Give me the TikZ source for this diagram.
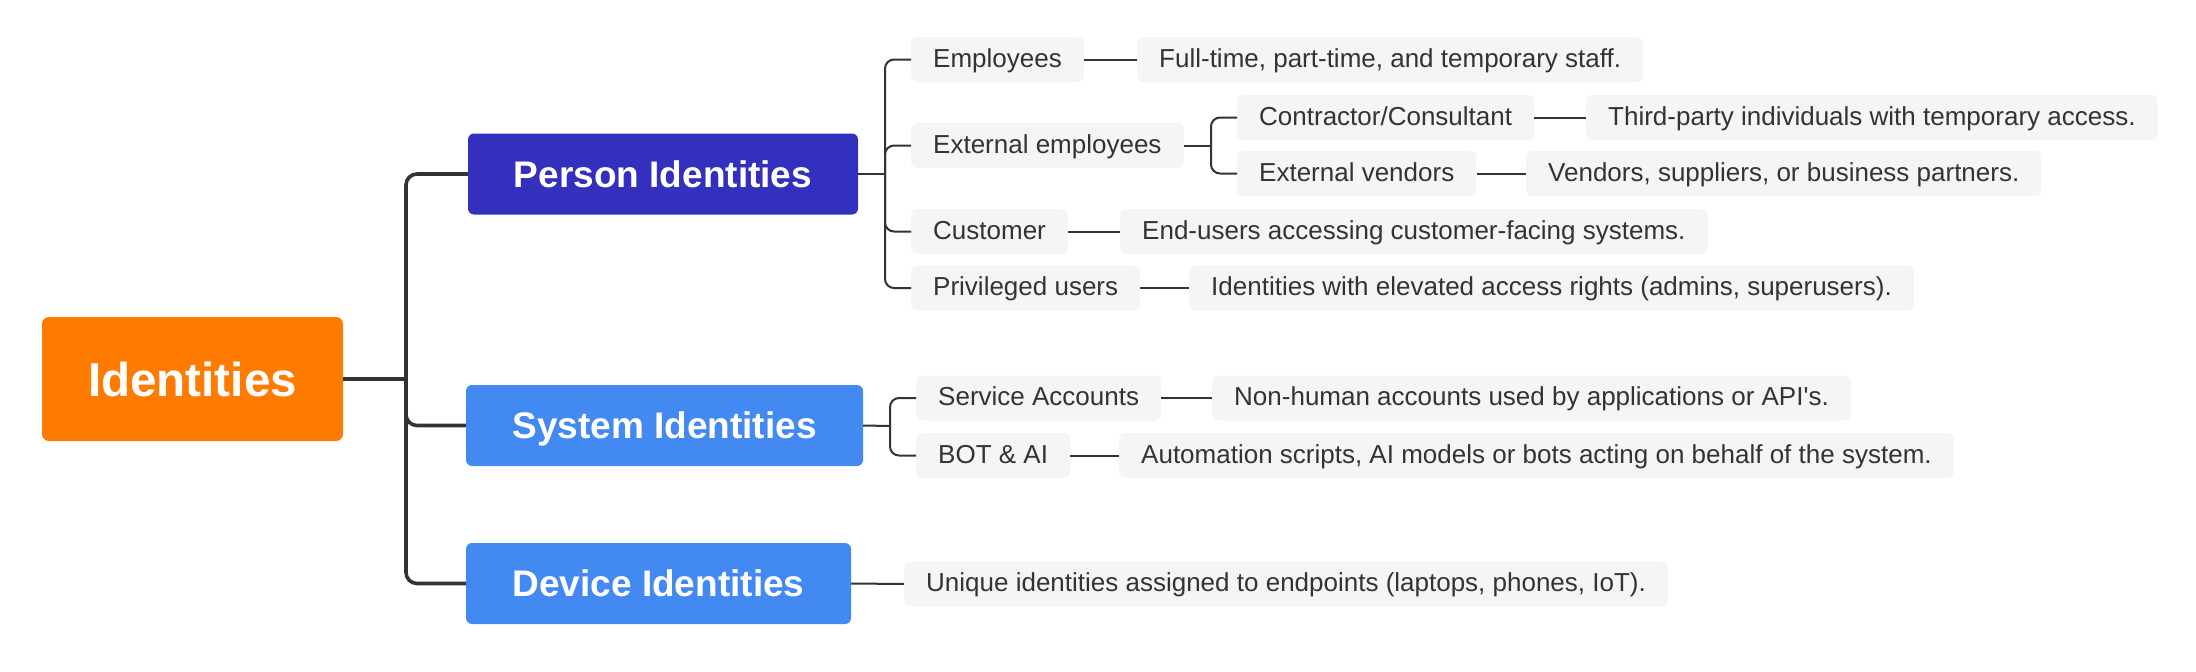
\documentclass[tikz,border=0pt]{standalone}
\usepackage{fontspec}
\setmainfont{Liberation Sans}
\usetikzlibrary{calc}
\definecolor{rootc}{HTML}{FF7B00}
\definecolor{personc}{HTML}{3330BD}
\definecolor{sysc}{HTML}{4289F1}
\definecolor{leafbg}{HTML}{F5F5F5}
\definecolor{txt}{HTML}{333333}
\definecolor{linec}{HTML}{333333}
\begin{document}
\begin{tikzpicture}[x=1pt,y=-1pt,
  rootbox/.style={fill=rootc, rounded corners=7pt, text=white, inner sep=0pt,
    minimum width=301pt, minimum height=124pt, text height=34pt, text depth=0pt,
    font=\fontsize{47.6}{52}\selectfont\bfseries},
  mainbox/.style={rounded corners=6pt, text=white, inner sep=0pt,
    minimum height=81pt, text height=26.5pt, text depth=0pt,
    font=\fontsize{37}{40}\selectfont\bfseries},
  leaf/.style={fill=leafbg, rounded corners=6pt, anchor=west, inner xsep=22pt,
    inner ysep=0pt, minimum height=45pt, text height=19pt, text depth=4pt,
    text=txt, font=\fontsize{26}{30}\selectfont},
  thickline/.style={draw=linec, line width=3.6pt, rounded corners=11pt},
  thinline/.style={draw=linec, line width=2pt, rounded corners=9pt}]
\useasboundingbox (0,0) rectangle (2196,672);

% main nodes
\node[rootbox] (root) at (192.5,379) {Identities};
\node[mainbox, fill=personc, minimum width=390pt] (person) at (663,174) {Person Identities};
\node[mainbox, fill=sysc, minimum width=397pt] (system) at (664.5,425.5) {System Identities};
\node[mainbox, fill=sysc, minimum width=385pt] (device) at (658.5,583.5) {Device Identities};

% person children
\node[leaf] (emp) at (911,59.5) {Employees};
\node[leaf] (empd) at (1137,59.5) {Full-time, part-time, and temporary staff.};
\node[leaf] (ext) at (911,145.5) {External employees};
\node[leaf] (con) at (1237,117.5) {Contractor/Consultant};
\node[leaf] (cond) at (1586,117.5) {Third-party individuals with temporary access.};
\node[leaf] (ven) at (1237,173.5) {External vendors};
\node[leaf] (vend) at (1526,173.5) {Vendors, suppliers, or business partners.};
\node[leaf] (cus) at (911,231.5) {Customer};
\node[leaf] (cusd) at (1120,231.5) {End-users accessing customer-facing systems.};
\node[leaf] (pri) at (911,288) {Privileged users};
\node[leaf] (prid) at (1189,288) {Identities with elevated access rights (admins, superusers).};

% system children
\node[leaf] (sa) at (916,398) {Service Accounts};
\node[leaf] (sad) at (1212,398) {Non-human accounts used by applications or API\textquotesingle s.};
\node[leaf] (bot) at (916,455.5) {BOT \& AI};
\node[leaf] (botd) at (1119,455.5) {Automation scripts, AI models or bots acting on behalf of the system.};

% device child
\node[leaf] (devd) at (904,584) {Unique identities assigned to endpoints (laptops, phones, IoT).};

% junctions
\coordinate (rj) at (406,379);
\coordinate (pj) at (885,174);
\coordinate (ej) at (1211,145.5);
\coordinate (sj) at (890,426);

% root connectors
\draw[thickline] (root.east) -- (rj);
\draw[thickline] (rj) |- (person.west);
\draw[thickline] (rj) |- (system.west);
\draw[thickline] (rj) |- (device.west);

% person connectors
\draw[thinline] (person.east) -- (pj);
\draw[thinline] (pj) |- (emp.west);
\draw[thinline] (pj) |- (ext.west);
\draw[thinline] (pj) |- (cus.west);
\draw[thinline] (pj) |- (pri.west);
\draw[thinline] (emp.east) -- (empd.west);
\draw[thinline] (cus.east) -- (cusd.west);
\draw[thinline] (pri.east) -- (prid.west);
\draw[thinline] (ext.east) -- (ej);
\draw[thinline] (ej) |- (con.west);
\draw[thinline] (ej) |- (ven.west);
\draw[thinline] (con.east) -- (cond.west);
\draw[thinline] (ven.east) -- (vend.west);

% system connectors
\draw[thinline] (system.east) -- (sj);
\draw[thinline] (sj) |- (sa.west);
\draw[thinline] (sj) |- (bot.west);
\draw[thinline] (sa.east) -- (sad.west);
\draw[thinline] (bot.east) -- (botd.west);

% device connector
\draw[thinline] (device.east) -- (devd.west);
\end{tikzpicture}
\end{document}
